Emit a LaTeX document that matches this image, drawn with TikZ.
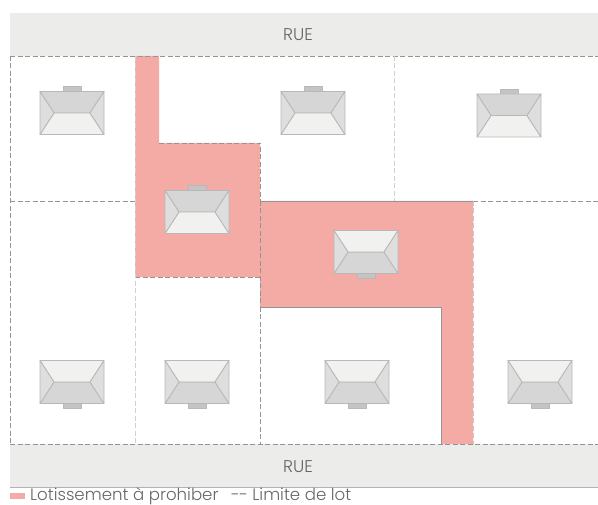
\documentclass[tikz,border=0pt]{standalone}
\usepackage{fontspec}
\setmainfont{Poppins}[UprightFont=* Light]
\definecolor{lotred}{HTML}{F4ABA6}
\definecolor{ruegray}{HTML}{ECECEB}
\definecolor{roofdark}{HTML}{D6D6D6}
\definecolor{roofside}{HTML}{DEDEDE}
\definecolor{rooflight}{HTML}{F1F1F0}
\definecolor{roofline}{HTML}{B8B8B8}
\definecolor{porchgray}{HTML}{C4C4C4}
\definecolor{textgray}{HTML}{666666}
\begin{document}
\begin{tikzpicture}[
    x=1pt,y=-1pt,
    rue/.style={fill=ruegray,draw=none},
    ruelabel/.style={font=\fontsize{17}{19}\selectfont,text=textgray},
    legend/.style={font=\fontsize{16.6}{18}\selectfont,text=textgray,anchor=base west,inner sep=0pt},
    lotline/.style={draw=black!42,line width=0.6pt,dash pattern=on 5pt off 2.5pt},
    lotfaint/.style={draw=black!18,line width=0.6pt,dash pattern=on 5pt off 2.5pt},
    lotwhite/.style={draw=white!78!black,line width=0.7pt,dash pattern=on 5pt off 2.5pt},
    lotsolid/.style={draw=black!42,line width=0.7pt},
    roof/.style={draw=roofline,line width=0.8pt,line join=round},
    house/.pic={
        \path[roof,fill=porchgray] (-9,-26.5) rectangle (9,-21);
        \path[roof,fill=roofdark] (-32,-21.5) -- (32,-21.5) -- (18,0) -- (-18,0) -- cycle;
        \path[roof,fill=rooflight] (-32,21.5) -- (32,21.5) -- (18,0) -- (-18,0) -- cycle;
        \path[roof,fill=roofside] (-32,-21.5) -- (-18,0) -- (-32,21.5) -- cycle;
        \path[roof,fill=roofside] (32,-21.5) -- (18,0) -- (32,21.5) -- cycle;
    }
]
    \useasboundingbox (0,0) rectangle (598,505);

    % streets
    \path[rue] (10,13) rectangle (598,56);
    \path[rue] (10,444) rectangle (598,487);
    \draw[black!30,line width=0.6pt] (10,487.5)--(598,487.5);
    \node[ruelabel] (ruetop) at (298,35) {RUE};
    \node[ruelabel] (ruebottom) at (298,467) {RUE};

    % lot to avoid
    \path[fill=lotred] (135,56)--(159,56)--(159,143)--(260,143)--(260,201)--(473,201)
        --(473,444)--(441,444)--(441,307)--(260,307)--(260,277)--(135,277)--cycle;

    % lot limits
    \draw[lotline] (10,56)--(598,56);
    \draw[lotline] (10,56)--(10,444);
    \draw[lotline] (10,201)--(135,201);
    \draw[lotline] (473,201)--(598,201);
    \draw[lotline] (159,143)--(260,143)--(260,201);
    \draw[lotline] (135,277)--(260,277);
    \draw[lotline] (260,307)--(260,444);
    \draw[lotline] (10,444)--(598,444);
    \draw[lotfaint] (135,56)--(135,444);
    \draw[lotfaint] (394,56)--(394,201);
    \draw[lotwhite] (473,201)--(473,444);
    \draw[lotline] (260,201)--(260,307);
    \draw[lotsolid] (260,201)--(473,201);
    \draw[lotsolid] (260,307)--(441,307)--(441,444);

    % houses
    \pic at (72,113) {house};
    \pic at (313,113) {house};
    \pic at (509,115.5) {house};
    \pic at (197,212) {house};
    \pic[yscale=-1] at (366,252) {house};
    \pic[yscale=-1] at (72,382) {house};
    \pic[yscale=-1] at (197,382) {house};
    \pic[yscale=-1] at (357,382) {house};
    \pic[yscale=-1] at (540,382) {house};

    % legend
    \path[fill=lotred] (10,493) rectangle (25,499);
    \node[legend] (lotlabel) at (30,500.5) {Lotissement à prohiber};
    \node[legend] (limitlabel) at (231,500.5) {-{\kern-0.5pt}- Limite de lot};
\end{tikzpicture}
\end{document}
